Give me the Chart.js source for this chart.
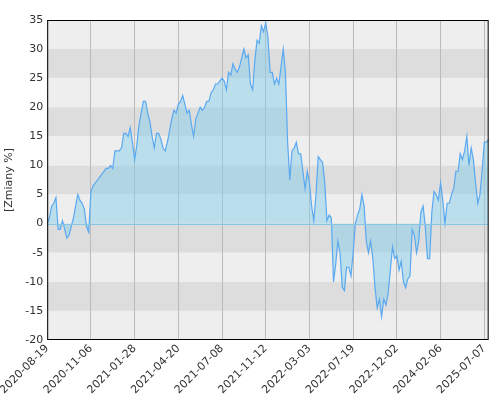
<!DOCTYPE html>
<html>
<head>
<meta charset="utf-8">
<script src="https://cdn.jsdelivr.net/npm/chart.js@4/dist/chart.umd.min.js"></script>
<style>
  html, body { margin: 0; padding: 0; background: #fff; }
  canvas { display: block; }
</style>
</head>
<body>
<canvas id="chart" width="500" height="400"></canvas>
<script>
// Date labels shown every 20 points along the category axis
const dateTicks = [
    '2020-08-19', '2020-11-06', '2021-01-28', '2021-04-20', '2021-07-08', '2021-11-12',
    '2022-03-03', '2022-07-19', '2022-12-02', '2024-02-06', '2025-07-07',
];
const tickEvery = 20;

// Change in %
const values = [
    0, 1, 3, 3.5, 4.5, -1, -1, 0.5, -1, -2.5, -2, -0.5, 1, 3, 5, 4, 3.5, 2.5, -0.5, -1.5,
    5.5, 6.5, 7, 7.5, 8, 8.5, 9, 9.5, 9.5, 10, 9.5, 12.5, 12.5, 12.5, 13, 15.5, 15.5, 15, 16.5, 14,
    11, 13.5, 17, 19, 21, 21, 19, 17.5, 15, 13, 15.5, 15.5, 14.5, 13, 12.5, 14, 16, 18, 19.5, 19,
    20.5, 21, 22, 20.5, 19, 19.5, 17, 15, 18, 19, 20, 19.5, 20, 21, 21, 22.5, 23, 24, 24, 24.5,
    25, 24.5, 23, 26, 25.5, 27.5, 26.5, 26, 27, 28.5, 30, 28.5, 29, 24, 23, 28, 31.5, 31, 34, 33,
    34.5, 32, 26, 26, 24, 25, 24, 27, 30, 26, 14, 7.5, 12.5, 13, 14, 12, 12, 9, 6, 9,
    7, 3, 0.5, 5, 11.5, 11, 10.5, 7, 0.5, 1.5, 1, -10, -7, -3, -5, -11, -11.5, -7.5, -7.5, -9,
    -5, 0, 1.5, 2.5, 5, 3, -3, -5, -3, -6, -11, -14.5, -13, -16, -13, -14, -12, -8, -4, -6,
    -5.5, -8, -6.5, -10, -11, -9.5, -9, -1, -2, -5, -3, 2, 3, -0.5, -6, -6, 2, 5.5, 5, 4,
    7, 4, 0, 3.5, 3.5, 5, 6, 9, 9, 12, 11, 12.5, 15, 10, 13, 11, 7, 3.5, 5, 9,
    14, 14, 14.5,
];

const labels = values.map((v, i) => (i % tickEvery === 0 ? (dateTicks[i / tickEvery] || '') : ''));

// alternating horizontal bands, zero line and black frame
const backdrop = {
    id: 'backdrop',
    beforeDraw(chart) {
        const { ctx, chartArea: a, scales: { y } } = chart;
        ctx.save();
        for (let v = 35; v > -20; v -= 5) {
            const top = y.getPixelForValue(v);
            const bottom = y.getPixelForValue(v - 5);
            const dark = Math.round(v / 5) % 2 === 0;
            ctx.fillStyle = dark ? '#dddddd' : '#eeeeee';
            ctx.fillRect(a.left, top, a.right - a.left, bottom - top);
        }
        ctx.restore();
    },
    afterDatasetsDraw(chart) {
        const { ctx, chartArea: a, scales: { y } } = chart;
        ctx.save();
        ctx.strokeStyle = '#87c7e4';
        ctx.lineWidth = 1;
        const z = Math.round(y.getPixelForValue(0)) + 0.5;
        ctx.beginPath();
        ctx.moveTo(a.left, z);
        ctx.lineTo(a.right, z);
        ctx.stroke();
        ctx.strokeStyle = '#000';
        ctx.strokeRect(a.left + 0.5, a.top + 0.5, a.right - a.left - 1, a.bottom - a.top - 1);
        ctx.restore();
    },
};

new Chart(document.getElementById('chart'), {
    type: 'line',
    data: {
        labels,
        datasets: [{
            data: values,
            borderColor: '#5aa9f0',
            backgroundColor: 'rgba(135, 206, 235, 0.5)',
            borderWidth: 1.2,
            pointRadius: 0,
            tension: 0,
            fill: 'origin',
        }],
    },
    options: {
        responsive: false,
        animation: false,
        layout: { padding: { top: 20, right: 2, left: 0, bottom: 0 } },
        plugins: { legend: { display: false }, tooltip: { enabled: false } },
        scales: {
            x: {
                offset: false,
                afterFit(scale) { scale.height = 60; },
                ticks: {
                    autoSkip: false,
                    maxRotation: 45,
                    minRotation: 45,
                    color: '#333',
                    font: { family: 'DejaVu Sans', size: 11 },
                    padding: 2,
                },
                grid: {
                    color: ctx => (ctx.tick && ctx.tick.label ? '#bbbbbb' : 'rgba(0,0,0,0)'),
                    drawTicks: false,
                },
                border: { display: false },
            },
            y: {
                min: -20,
                max: 35,
                afterFit(scale) { scale.width = 45; },
                ticks: {
                    stepSize: 5,
                    color: '#333',
                    font: { family: 'DejaVu Sans', size: 11 },
                    padding: 4,
                },
                grid: { display: false, drawTicks: false },
                border: { display: false },
                title: {
                    display: true,
                    text: '[Zmiany %]',
                    color: '#333',
                    font: { family: 'DejaVu Sans', size: 11 },
                    padding: 0,
                },
            },
        },
    },
    plugins: [backdrop],
});
</script>
</body>
</html>
